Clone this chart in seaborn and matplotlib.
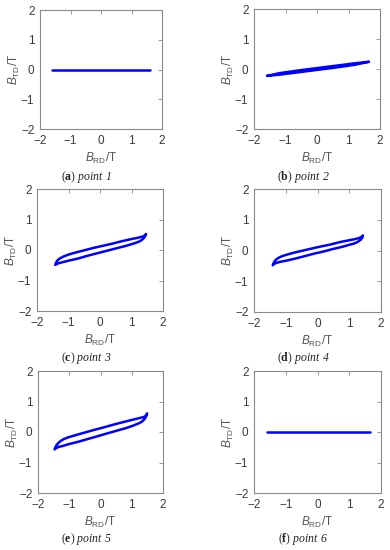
# B_TD vs B_RD loops at six measuring points
import matplotlib
matplotlib.use('Agg')

import matplotlib.pyplot as plt
import seaborn as sns

# point 1 and point 6: flat line
p1_x = [-1.62, 1.62]
p1_y = [0.0, 0.0]
p6_x = [-1.60, 1.64]
p6_y = [0.0, 0.0]

# point 2: very thin loop
p2_upper_x = [1.64, 1.2, 0.6, 0.0, -0.6, -1.2, -1.59]
p2_upper_y = [0.24, 0.19, 0.11, 0.03, -0.05, -0.14, -0.23]
p2_lower_x = [-1.59, -1.2, -0.6, 0.0, 0.6, 1.2, 1.64]
p2_lower_y = [-0.23, -0.19, -0.11, -0.03, 0.05, 0.14, 0.24]

# point 3
p3_upper_x = [1.46, 1.42, 1.35, 1.2, 1.0, 0.7, 0.4, 0.1, -0.2, -0.5, -0.8, -1.0, -1.15, -1.25, -1.33, -1.39, -1.42]
p3_upper_y = [0.52, 0.47, 0.44, 0.40, 0.36, 0.29, 0.21, 0.14, 0.07, -0.01, -0.09, -0.15, -0.21, -0.26, -0.32, -0.40, -0.49]
p3_lower_x = [-1.42, -1.38, -1.3, -1.15, -1.0, -0.7, -0.4, -0.1, 0.2, 0.5, 0.8, 1.0, 1.15, 1.25, 1.33, 1.39, 1.43, 1.46]
p3_lower_y = [-0.49, -0.46, -0.43, -0.39, -0.35, -0.28, -0.19, -0.11, -0.03, 0.05, 0.13, 0.19, 0.24, 0.28, 0.33, 0.39, 0.45, 0.52]

# point 4
p4_upper_x = [1.43, 1.39, 1.32, 1.18, 0.98, 0.69, 0.39, 0.1, -0.2, -0.49, -0.78, -0.98, -1.13, -1.23, -1.31, -1.37, -1.41]
p4_upper_y = [0.48, 0.44, 0.41, 0.37, 0.33, 0.27, 0.19, 0.13, 0.06, -0.01, -0.08, -0.14, -0.19, -0.24, -0.30, -0.38, -0.48]
p4_lower_x = [-1.41, -1.37, -1.29, -1.14, -0.98, -0.69, -0.39, -0.1, 0.2, 0.49, 0.78, 0.98, 1.13, 1.23, 1.31, 1.37, 1.41, 1.43]
p4_lower_y = [-0.48, -0.44, -0.40, -0.36, -0.33, -0.26, -0.18, -0.10, -0.03, 0.05, 0.12, 0.18, 0.22, 0.26, 0.31, 0.36, 0.42, 0.48]

# point 5
p5_upper_x = [1.49, 1.45, 1.38, 1.22, 1.02, 0.71, 0.41, 0.1, -0.2, -0.51, -0.82, -1.02, -1.17, -1.27, -1.35, -1.42, -1.47]
p5_upper_y = [0.60, 0.53, 0.49, 0.45, 0.40, 0.32, 0.24, 0.15, 0.07, -0.02, -0.11, -0.17, -0.23, -0.29, -0.36, -0.45, -0.57]
p5_lower_x = [-1.47, -1.42, -1.34, -1.18, -1.02, -0.71, -0.41, -0.1, 0.2, 0.51, 0.82, 1.02, 1.17, 1.28, 1.36, 1.42, 1.46, 1.49]
p5_lower_y = [-0.57, -0.53, -0.49, -0.45, -0.40, -0.32, -0.23, -0.14, -0.05, 0.04, 0.13, 0.20, 0.26, 0.31, 0.37, 0.44, 0.51, 0.60]

ticks = [-2, -1, 0, 1, 2]
letters = ["a", "b", "c", "d", "e", "f"]
names = ["point 1", "point 2", "point 3", "point 4", "point 5", "point 6"]

sns.set_style("white")
plt.rcParams["font.family"] = ["Liberation Sans", "DejaVu Sans"]
plt.rcParams["mathtext.fontset"] = "custom"
plt.rcParams["mathtext.rm"] = "Liberation Sans"
plt.rcParams["mathtext.cal"] = "Liberation Sans:italic"
plt.rcParams["mathtext.sf"] = "Liberation Serif:italic"
plt.rcParams["mathtext.bf"] = "Liberation Serif:bold"

spine_color = "#8a8a8a"
text_color = "#3a3a3a"

fig = plt.figure(figsize=(3.9, 5.5), dpi=100)
W, H = 390, 550

# axes boxes in pixels: left, top, right, bottom
boxes = [(40, 10, 162, 129), (254, 9, 380, 129),
         (37, 189, 163, 311), (254, 189, 381, 312),
         (38, 371, 163, 493), (254, 371, 381, 493)]
caption_pos = [(87, 177), (303, 177), (87, 358), (303, 358), (87, 539), (303, 539)]

loops = [
    (p1_x, p1_y),
    (p2_upper_x + p2_lower_x, p2_upper_y + p2_lower_y),
    (p3_upper_x + p3_lower_x, p3_upper_y + p3_lower_y),
    (p4_upper_x + p4_lower_x, p4_upper_y + p4_lower_y),
    (p5_upper_x + p5_lower_x, p5_upper_y + p5_lower_y),
    (p6_x, p6_y),
]

for i, (l, t, r, b) in enumerate(boxes):
    ax = fig.add_axes([l / W, 1 - b / H, (r - l) / W, (b - t) / H])
    lx, ly = loops[i]
    sns.lineplot(x=lx, y=ly, sort=False, estimator=None, color="#0000ff",
                 linewidth=1.8, ax=ax)
    ax.set_xlim(-2, 2)
    ax.set_ylim(-2, 2)
    ax.set_xticks(ticks)
    ax.set_yticks(ticks)
    ax.tick_params(direction="in", top=True, right=True, length=3, width=0.6,
                   color=spine_color, labelcolor=text_color, labelsize=8.5, pad=4)
    for s in ax.spines.values():
        s.set_color(spine_color)
        s.set_linewidth(0.8)
    ax.set_xlabel(r"$\mathcal{B}_{\mathrm{RD}}$/T", fontsize=8.5, color="#555555", labelpad=3)
    ax.set_ylabel(r"$\mathcal{B}_{\mathrm{TD}}$/T", fontsize=8.5, color="#555555", labelpad=-1)

    cx, cy = caption_pos[i]
    fig.text(cx / W, 1 - cy / H,
             r"($\mathbf{%s}$) $\mathsf{%s}$" % (letters[i], names[i].replace(" ", r"\ ")),
             family="Liberation Serif", fontsize=8.5, color="#222222",
             ha="center", va="center")

fig.savefig("out.png", dpi=100)
